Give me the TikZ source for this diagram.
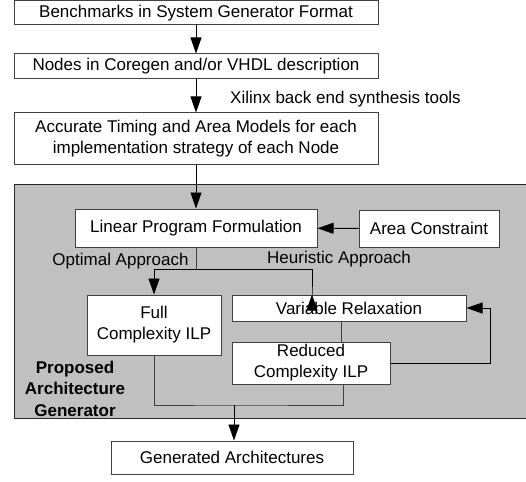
\documentclass[tikz,border=0pt]{standalone}
\usepackage{fontspec}
\setmainfont{Liberation Sans}
\usetikzlibrary{arrows.meta}
\definecolor{boxline}{HTML}{404040}
\definecolor{regionfill}{HTML}{C0C0C0}
\begin{document}
\begin{tikzpicture}[x=1pt,y=-1pt,
  txt/.style={font=\fontsize{17}{21}\selectfont},
  box/.style={txt, draw=boxline, fill=white, line width=1pt, align=center, inner sep=0pt},
  flow/.style={draw=black, line width=0.9pt, -{Triangle[length=16pt,width=11pt]}},
  link/.style={draw=boxline, line width=1pt}]
\useasboundingbox (0,0) rectangle (526,481);
\clip (0,0) rectangle (526,481);

% shaded region of the architecture generator
\path[fill=regionfill, draw=black!85, line width=1pt] (14,184) rectangle (540,418);

% boxes
\node[box, minimum width=364pt, minimum height=24pt] (bench) at (196,13) {Benchmarks in System Generator Format};
\node[box, minimum width=364pt, minimum height=25pt] (nodes) at (196,66.5) {Nodes in Coregen and/or VHDL description};
\node[box, minimum width=364pt, minimum height=51pt] (models) at (196,138.5) {Accurate Timing and Area Models for each\\implementation strategy of each Node};
\node[box, minimum width=242pt, minimum height=38pt] (lp) at (196,228) {Linear Program Formulation};
\node[box, minimum width=140pt, minimum height=37pt] (area) at (429,228.5) {Area Constraint};
\node[box, minimum width=134pt, minimum height=60pt] (full) at (154,325) {Full\\Complexity ILP};
\node[box, minimum width=234pt, minimum height=26pt] (relax) at (349,308) {Variable Relaxation};
\node[box, minimum width=158pt, minimum height=42pt] (reduced) at (311,363) {Reduced\\Complexity ILP};
\node[box, minimum width=242pt, minimum height=33pt] (gen) at (232,457.5) {Generated Architectures};

% labels
\node[txt, anchor=west, inner sep=0pt] (xil) at (230,99) {Xilinx back end synthesis tools};
\node[txt, inner sep=0pt] (opt) at (120.5,261) {Optimal Approach};
\node[txt, inner sep=0pt] (heu) at (339,259) {Heuristic Approach};
\node[txt, font=\fontsize{17}{21.5}\selectfont\bfseries, align=center, inner sep=0pt] (agp) at (75,388.5) {Proposed\\Architecture\\Generator};

% junction points
\coordinate (split) at (196,269);
\coordinate (fb) at (490,363);
\coordinate (join) at (234,405);

% connectors
\draw[flow] (bench) -- (nodes);
\draw[flow] (nodes) -- (models);
\draw[flow] (models) -- (lp);
\draw[flow] (area) -- (lp);
\draw[link] (lp.south) -- (split);
\draw[flow] (split) -| (full.north);
\draw[flow] (split) -| (312,294.5) -- (relax.north -| 312,0);
\draw[link] (relax.south -| 341,0) -- (reduced.north -| 341,0);
\draw[flow] (reduced.east) -- (fb) |- (relax.east);
\draw[link] (full.south) |- (join) -| (reduced.south -| 343,0);
\draw[flow] (join) -- (gen.north -| join);
\end{tikzpicture}
\end{document}
